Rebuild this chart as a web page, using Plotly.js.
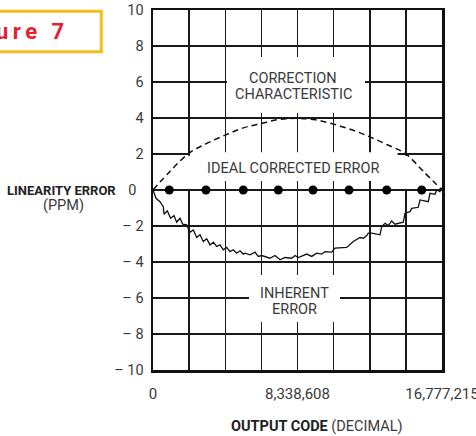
<!DOCTYPE html>
<html>
<head>
<meta charset="utf-8">
<script src="https://cdn.plot.ly/plotly-3.0.1.min.js"></script>
<style>
html,body{margin:0;padding:0;background:#fff;}
#chart{width:476px;height:436px;}
</style>
</head>
<body>
<div id="chart"></div>
<script>
// ---- data ----
var fullScale = 16777216;
var xTickVals = [0, 2097152, 4194304, 6291456, 8388608, 10485760, 12582912, 14680064, 16777216];
var xTickText = ['0', '', '', '', '8,338,608', '', '', '', '16,777,215'];
var yTickVals = [10, 8, 6, 4, 2, 0, -2, -4, -6, -8, -10];
var yTickText = ['10', '8', '6', '4', '2', '0\u00a0\u00a0', '\u2013\u00a02', '\u2013\u00a04', '\u2013\u00a06', '\u2013\u00a08', '\u2013\u00a010'];

// inherent error (jagged curve), x = output code, y = ppm
var inherentX = [0, 174000, 406000, 598000, 639000, 830000, 1028000, 1219000, 1376000, 1567000,
  1724000, 1956000, 2148000, 2340000, 2537000, 2728000, 2920000, 3117000, 3309000, 3501000,
  3698000, 3890000, 4081000, 4279000, 4470000, 4662000, 4859000, 5051000, 5242000, 5341000,
  5631000, 5921000, 6113000, 6310000, 6792000, 7082000, 7373000, 7663000, 8052000, 8244000,
  8435000, 8923000, 9213000, 9503000, 9794000, 9985000, 10374000, 10566000, 11245000, 11628000,
  12017000, 12209000, 12406000, 12499000, 12696000, 13178000, 13277000, 13468000, 13660000, 13857000,
  14049000, 14531000, 14629000, 14920000, 15018000, 15401000, 15500000, 15982000, 16081000, 16371000,
  16470000, 16661000, 16760000];
var inherentY = [0, -0.46, -0.65, -0.93, -1.35, -1.16, -1.57, -1.42, -1.79, -1.57,
  -1.90, -1.94, -2.35, -2.22, -2.64, -2.49, -2.86, -2.71, -3.05, -2.90,
  -3.14, -3.05, -3.32, -3.19, -3.42, -3.32, -3.51, -3.38, -3.56, -3.51,
  -3.60, -3.45, -3.69, -3.64, -3.79, -3.64, -3.88, -3.75, -3.79, -3.64,
  -3.75, -3.56, -3.69, -3.51, -3.56, -3.42, -3.45, -3.23, -3.19, -2.86,
  -2.64, -2.68, -2.53, -2.40, -2.40, -2.49, -2.03, -1.85, -1.98, -1.72,
  -1.90, -1.79, -1.29, -1.20, -1.02, -0.96, -0.55, -0.65, -0.18, -0.24,
  0.00, -0.09, 0.12];

// correction characteristic (dashed)
var correctionX = [0, 1048576, 2097152, 3145728, 4194304, 5242880, 6291456, 7340032, 8388608,
  9437184, 10485760, 11534336, 12582912, 13631488, 14680064, 15728640, 16777216];
var correctionY = [0, 1.1, 2.05, 2.6, 3.05, 3.45, 3.7, 3.92, 3.98, 3.9, 3.66, 3.35, 2.95, 2.5, 2.0, 1.0, 0];

// ideal corrected error (dots)
var idealX = [946000, 3077000, 5242000, 7274000, 9288000, 11378000, 13567000, 15599000];
var idealY = [0, 0, 0, 0, 0, 0, 0, 0];

// ---- chart ----
var textCol = '#3a3a3a';
var narrow = 'Liberation Sans Narrow, Arial Narrow, Roboto, sans-serif';

var traces = [
  {x: correctionX, y: correctionY, mode: 'lines', type: 'scatter',
   line: {color: '#111', width: 1.5, dash: '6px,4px', shape: 'spline'}, hoverinfo: 'skip'},
  {x: inherentX, y: inherentY, mode: 'lines', type: 'scatter',
   line: {color: '#111', width: 1.3}, hoverinfo: 'skip'},
  {x: idealX, y: idealY, mode: 'markers', type: 'scatter',
   marker: {color: '#000', size: 9}, hoverinfo: 'skip'}
];

function whiteBox(x0, x1, y0, y1) {
  return {type: 'rect', xref: 'x', yref: 'y', x0: x0, x1: x1, y0: y0, y1: y1,
    fillcolor: '#fff', line: {width: 0}, layer: 'between'};
}

var layout = {
  width: 476, height: 436,
  margin: {l: 153, r: 34, t: 10, b: 66, pad: 0},
  paper_bgcolor: '#fff', plot_bgcolor: '#fff',
  showlegend: false,
  font: {family: 'Roboto, sans-serif', color: textCol},
  xaxis: {
    range: [0, fullScale], tickmode: 'array', tickvals: xTickVals, ticktext: xTickText,
    showgrid: true, gridcolor: '#1a1a1a', gridwidth: 1.5, zeroline: false,
    showline: true, mirror: true, linecolor: '#111', linewidth: 2.5,
    ticks: '', ticklabelstandoff: 8, ticklabeloverflow: 'allow',
    tickfont: {family: 'Roboto, sans-serif', size: 15, color: textCol}
  },
  yaxis: {
    range: [-10, 10], tickmode: 'array', tickvals: yTickVals, ticktext: yTickText,
    showgrid: true, gridcolor: '#1a1a1a', gridwidth: 1.5, zeroline: false,
    showline: true, mirror: true, linecolor: '#111', linewidth: 2.5,
    ticks: '', ticklabelstandoff: 4,
    tickfont: {family: 'Roboto, sans-serif', size: 14.5, color: textCol}
  },
  shapes: [
    whiteBox(4296000, 12307000, 4.28, 7.39),
    whiteBox(2150000, 14200000, 0.5, 2.1),
    whiteBox(1916000, 2270000, 0.06, 1.9),
    whiteBox(14340000, 14746000, 0.06, 1.9),
    whiteBox(5573000, 10856000, -7.33, -4.72),
    {type: 'rect', xref: 'paper', yref: 'paper', x0: -0.564, x1: -0.1789, y0: 0.8842, y1: 0.9964,
     fillcolor: 'rgba(0,0,0,0)', line: {color: '#F6BE1A', width: 3}}
  ],
  annotations: [
    {xref: 'x', yref: 'y', x: 8150000, y: 6.17, text: 'CORRECTION', showarrow: false,
     font: {size: 14.5, color: textCol}},
    {xref: 'x', yref: 'y', x: 8150000, y: 5.28, text: 'CHARACTERISTIC', showarrow: false,
     font: {size: 14.5, color: textCol}},
    {xref: 'x', yref: 'y', x: 8100000, y: 1.17, text: 'IDEAL CORRECTED ERROR', showarrow: false,
     font: {size: 14.5, color: textCol}},
    {xref: 'x', yref: 'y', x: 8240000, y: -5.76, text: 'INHERENT', showarrow: false,
     font: {size: 14.5, color: textCol}},
    {xref: 'x', yref: 'y', x: 8240000, y: -6.64, text: 'ERROR', showarrow: false,
     font: {size: 14.5, color: textCol}},
    {xref: 'paper', yref: 'paper', x: -0.317, y: 0.5, xanchor: 'center', yanchor: 'middle',
     text: '<b>LINEARITY ERROR</b>', showarrow: false,
     font: {family: narrow, size: 13, color: '#222'}},
    {xref: 'paper', yref: 'paper', x: -0.31, y: 0.456, xanchor: 'center', yanchor: 'middle',
     text: '(PPM)', showarrow: false, font: {size: 14.5, color: textCol}},
    {xref: 'paper', yref: 'paper', x: 0.567, y: -0.158, xanchor: 'center', yanchor: 'middle',
     text: '<span style="font-family:Liberation Sans Narrow, Arial Narrow, Roboto;font-weight:bold;fill:#222">OUTPUT CODE</span> (DECIMAL)',
     showarrow: false, font: {size: 14.5, color: textCol}},
    {xref: 'paper', yref: 'paper', x: -0.704, y: 0.9389, xanchor: 'left', yanchor: 'middle',
     text: '<span style="letter-spacing:4.5px"><b>Figure 7</b></span>', showarrow: false,
     font: {family: narrow, size: 22, color: '#E5202E'}}
  ]
};

Plotly.newPlot('chart', traces, layout, {displayModeBar: false, staticPlot: true});
</script>
</body>
</html>
